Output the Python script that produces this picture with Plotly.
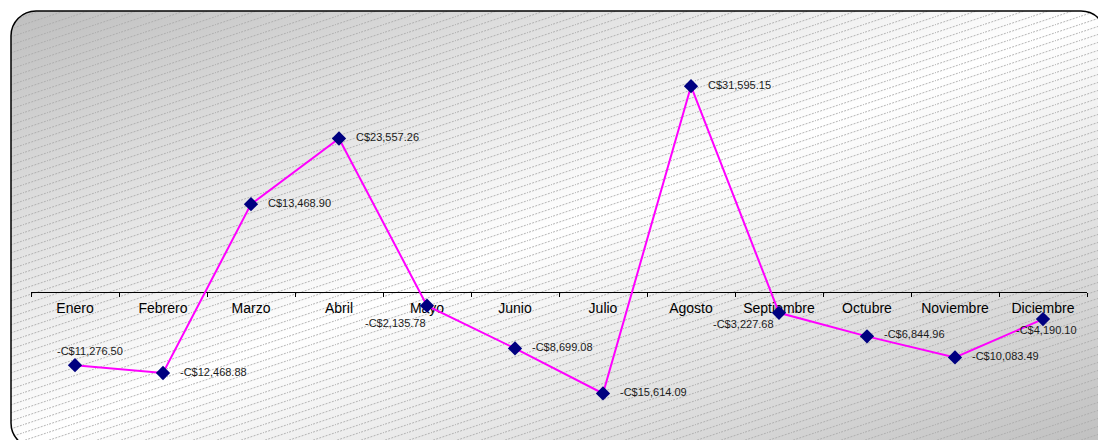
import base64
import plotly.graph_objects as go

# ---- data ----
months = ["Enero", "Febrero", "Marzo", "Abril", "Mayo", "Junio", "Julio",
          "Agosto", "Septiembre", "Octubre", "Noviembre", "Diciembre"]
values = [-11276.50, -12468.88, 13468.90, 23557.26, -2135.78, -8699.08,
          -15614.09, 31595.15, -3227.68, -6844.96, -10083.49, -4190.10]

# label placement (anchor, xshift, yshift) per point
label_place = [("center", 15, 14), ("left", 15, 1), ("left", 15, 1), ("left", 15, 1),
               ("right", 1, -17), ("left", 15, 1), ("left", 15, 1.5), ("left", 15, 1.5),
               ("right", -3, -11), ("left", 15, 2), ("left", 15, 1), ("center", 3, -11)]

W, H = 1098, 440
ML, MR, MT, MB = 31, 11, 64, 18
YMIN, YMAX = -20000, 35000


def fmt(v):
    s = "C${:,.2f}".format(abs(v))
    return "-" + s if v < 0 else s


# ---- background: rounded rect with diagonal gradient + dashed hatch ----
hatch = 'stroke="#aaaaaa" stroke-width="0.9" stroke-dasharray="2,1.3"'
svg = f'''<svg xmlns="http://www.w3.org/2000/svg" width="{W}" height="{H}" viewBox="0 0 {W} {H}">
<defs>
<linearGradient id="g" x1="0" y1="0" x2="1" y2="1">
<stop offset="0" stop-color="#bfbfbf"/>
<stop offset="0.5" stop-color="#ffffff"/>
<stop offset="1" stop-color="#bfbfbf"/>
</linearGradient>
<pattern id="p" patternUnits="userSpaceOnUse" width="24" height="8">
<line x1="-24" y1="16.5" x2="48" y2="-7.5" {hatch}/>
<line x1="-24" y1="8.5" x2="48" y2="-15.5" {hatch}/>
<line x1="-24" y1="24.5" x2="48" y2="0.5" {hatch}/>
</pattern>
</defs>
<rect x="11" y="11" width="1095" height="437" rx="25" ry="25" fill="url(#g)"/>
<rect x="11" y="11" width="1095" height="437" rx="25" ry="25" fill="url(#p)" stroke="#000" stroke-width="1.5"/>
</svg>'''
uri = "data:image/svg+xml;base64," + base64.b64encode(svg.encode()).decode()

pw = W - ML - MR
ph = H - MT - MB

fig = go.Figure()
fig.add_trace(go.Scatter(
    x=months, y=values, mode="lines+markers",
    line=dict(color="#FF00FF", width=2),
    marker=dict(symbol="diamond", size=11, color="#000080",
                line=dict(color="#000080", width=0)),
    hoverinfo="skip", showlegend=False,
))

for m, v, (anc, xs, ys) in zip(months, values, label_place):
    fig.add_annotation(
        x=m, y=v, text=fmt(v), showarrow=False,
        xanchor=anc, yanchor="middle", xshift=xs, yshift=ys,
        font=dict(family="Arial, Liberation Sans, sans-serif", size=11, color="#1a1a1a"),
    )

fig.update_layout(
    width=W, height=H,
    margin=dict(l=ML, r=MR, t=MT, b=MB, pad=0),
    paper_bgcolor="white", plot_bgcolor="rgba(0,0,0,0)",
    images=[dict(source=uri, xref="paper", yref="paper",
                 x=-ML / pw, y=1 + MT / ph, sizex=W / pw, sizey=H / ph,
                 xanchor="left", yanchor="top", sizing="stretch", layer="below")],
    xaxis=dict(
        type="category", range=[-0.5, 11.5], anchor="free",
        position=(0 - YMIN) / (YMAX - YMIN),
        showline=True, linecolor="black", linewidth=1,
        ticks="outside", tickson="boundaries", ticklen=4, tickcolor="black",
        ticklabelstandoff=3,
        showgrid=False, zeroline=False, layer="below traces",
        tickfont=dict(family="Arial, Liberation Sans, sans-serif", size=14, color="#000"),
    ),
    yaxis=dict(range=[YMIN, YMAX], visible=False, showgrid=False, zeroline=False),
)

fig.write_html("out.html")
